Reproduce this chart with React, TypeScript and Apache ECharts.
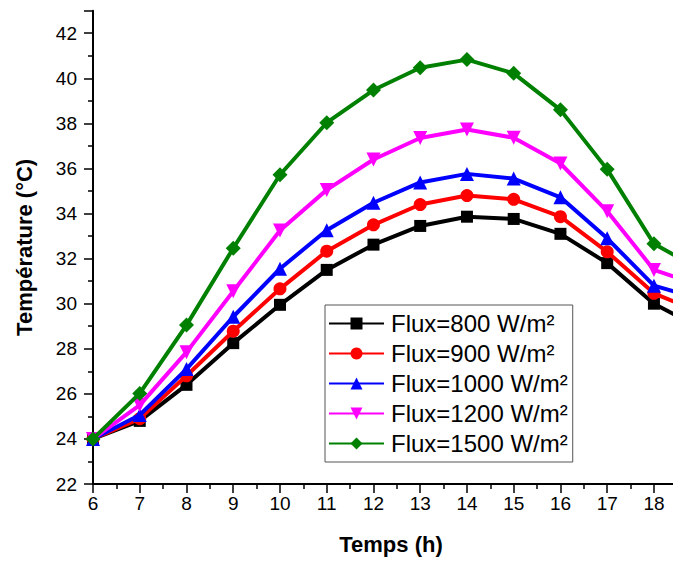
import React, { useEffect, useRef } from "react";
import * as echarts from "echarts";

const hours = [6, 7, 8, 9, 10, 11, 12, 13, 14, 15, 16, 17, 18, 19];
const flux800 = [24.0, 24.8, 26.4, 28.25, 29.95, 31.5, 32.62, 33.45, 33.86, 33.76, 33.1, 31.8, 30.0, 28.9];
const flux900 = [24.0, 24.9, 26.8, 28.78, 30.66, 32.33, 33.5, 34.4, 34.8, 34.63, 33.86, 32.3, 30.46, 29.6];
const flux1000 = [24.0, 25.06, 27.1, 29.42, 31.55, 33.26, 34.48, 35.38, 35.76, 35.55, 34.72, 32.9, 30.8, 30.2];
const flux1200 = [24.0, 25.5, 27.85, 30.55, 33.25, 35.05, 36.4, 37.35, 37.73, 37.36, 36.22, 34.1, 31.5, 30.8];
const flux1500 = [24.0, 26.02, 29.05, 32.46, 35.72, 38.03, 39.48, 40.47, 40.83, 40.22, 38.6, 35.96, 32.66, 31.5];

const seriesNames = [
  "Flux=800 W/m²",
  "Flux=900 W/m²",
  "Flux=1000 W/m²",
  "Flux=1200 W/m²",
  "Flux=1500 W/m²",
];
const seriesValues = [flux800, flux900, flux1000, flux1200, flux1500];
const seriesColors = ["#000000", "#FF0000", "#0000FF", "#FF00FF", "#008000"];
const seriesSymbols = [
  "rect",
  "circle",
  "triangle",
  "path://M0,0 L10,0 L5,9 Z",
  "diamond",
];
const seriesSymbolSizes = [12, 13, 14, 14, 15];

const FONT = 'Arial, "Liberation Sans", Helvetica, sans-serif';

export default function App() {
  const ref = useRef<HTMLDivElement>(null);
  useEffect(() => {
    if (!ref.current) return;
    const chart = echarts.init(ref.current, null, { renderer: "svg" });
    const series = seriesNames.map((name, i) => ({
      name,
      type: "line",
      data: hours.map((h, j) => [h, seriesValues[i][j]]),
      symbol: seriesSymbols[i],
      symbolSize: seriesSymbolSizes[i],
      showAllSymbol: true,
      lineStyle: { color: seriesColors[i], width: 4 },
      itemStyle: { color: seriesColors[i] },
      clip: true,
      z: 2 + i,
    }));
    chart.setOption({
      animation: false,
      backgroundColor: "#ffffff",
      textStyle: { fontFamily: FONT },
      grid: { left: 93, right: 0, top: 10.7, bottom: 77, containLabel: false },
      legend: {
        orient: "vertical",
        left: 325,
        top: 305,
        padding: [6, 5, 6, 3],
        itemGap: 5,
        itemWidth: 55,
        itemHeight: 15,
        borderColor: "#555555",
        borderWidth: 1,
        borderRadius: 0,
        backgroundColor: "#ffffff",
        textStyle: { fontFamily: FONT, fontSize: 24, color: "#000", lineHeight: 25, padding: [0, 0, 0, 2] },
        data: seriesNames,
      },
      xAxis: {
        type: "value",
        min: 6,
        max: 18.75,
        interval: 1,
        name: "Temps (h)",
        nameLocation: "middle",
        nameGap: 49,
        nameTextStyle: { fontFamily: FONT, fontSize: 22, fontWeight: "bold", color: "#000" },
        axisLine: { show: true, onZero: false, lineStyle: { color: "#000", width: 2 } },
        axisTick: { show: true, inside: false, length: 9, lineStyle: { color: "#000", width: 1.5 } },
        minorTick: { show: true, splitNumber: 2, length: 5, lineStyle: { color: "#000", width: 1.5 } },
        axisLabel: {
          fontFamily: FONT,
          fontSize: 19,
          color: "#000",
          margin: 10,
          formatter: (v: number) => (v <= 18 && Number.isInteger(v) ? String(v) : ""),
        },
        splitLine: { show: false },
      },
      yAxis: {
        type: "value",
        min: 22,
        max: 43,
        interval: 2,
        name: "Température (°C)",
        nameLocation: "middle",
        nameGap: 58,
        nameTextStyle: { fontFamily: FONT, fontSize: 22, fontWeight: "bold", color: "#000" },
        axisLine: { show: true, onZero: false, lineStyle: { color: "#000", width: 2 } },
        axisTick: { show: true, inside: false, length: 9, lineStyle: { color: "#000", width: 1.5 } },
        minorTick: { show: true, splitNumber: 2, length: 5, lineStyle: { color: "#000", width: 1.5 } },
        axisLabel: {
          fontFamily: FONT,
          fontSize: 19,
          color: "#000",
          margin: 16,
          formatter: (v: number) => (v % 2 === 0 ? String(v) : ""),
        },
        splitLine: { show: false },
      },
      series,
    });
    return () => chart.dispose();
  }, []);
  return (
    <div
      ref={ref}
      style={{ position: "fixed", left: 0, top: 0, width: 692, height: 561, background: "#fff" }}
    />
  );
}
